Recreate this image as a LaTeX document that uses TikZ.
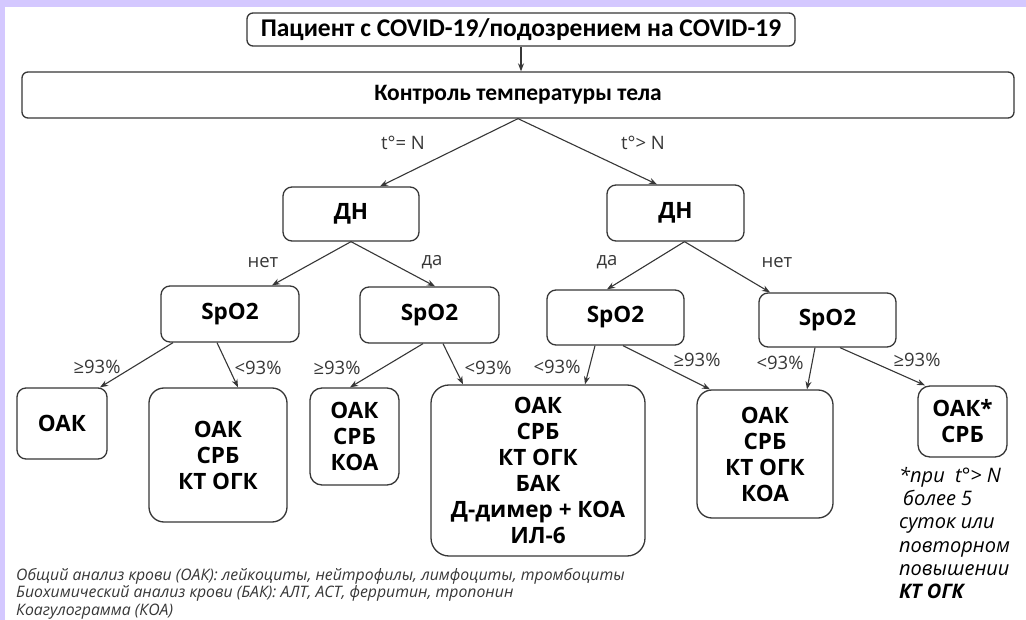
\documentclass[tikz,border=0pt]{standalone}
\usepackage{fontspec}
\setmainfont{Open Sans}
\newfontfamily\calfont{Carlito}
\usetikzlibrary{calc, arrows.meta}

\definecolor{framelav}{RGB}{212,200,255}
\definecolor{ink}{RGB}{55,55,55}

\newcommand{\boxfont}{\fontsize{22.5}{26}\selectfont\bfseries}
\newcommand{\lblfont}{\fontsize{18.5}{20}\selectfont}
\newcommand{\notefont}{\fontsize{20}{23.2}\selectfont\itshape}

\tikzset{
  box/.style={draw=ink, line width=1.3pt, rounded corners=9pt, align=center,
    inner sep=0pt, font=\boxfont},
  arr/.style={draw=ink, line width=1.1pt, -{Stealth[length=8pt,width=6pt]}},
  lbl/.style={font=\lblfont, text=ink, inner sep=0pt}
}

\begin{document}
\begin{tikzpicture}[x=1pt, y=-1pt]
\def\picW{1026}
\def\picH{620}

    % frame
    \fill[framelav] (0,0) rectangle (\picW,\picH);
    \fill[white] (5,7) rectangle (\picW,\picH);
    \useasboundingbox (0,0) rectangle (\picW,\picH);

    % top of the tree
    \node[box, rounded corners=6pt, minimum width=548, minimum height=33,
      font=\calfont\fontsize{25.5}{26}\selectfont\bfseries] (patient) at (521,29.5)
      {Пациент с COVID-19/подозрением на COVID-19};
    \node[box, rounded corners=6pt, minimum width=992, minimum height=46,
      font=\calfont\fontsize{23.5}{26}\selectfont\bfseries] (temp) at (518,95)
      {Контроль температуры тела};

    % ДН
    \node[box, minimum width=136, minimum height=54] (dnL) at (351,214) {ДН};
    \node[box, minimum width=137, minimum height=56] (dnR) at (675.5,213) {ДН};

    % SpO2
    \node[box, minimum width=138, minimum height=56] (spA) at (230,314) {SpO2};
    \node[box, minimum width=139, minimum height=56] (spB) at (429.5,315) {SpO2};
    \node[box, minimum width=137, minimum height=55] (spC) at (615.5,317.5) {SpO2};
    \node[box, minimum width=137, minimum height=54] (spD) at (827.5,320) {SpO2};

    % tests
    \node[box, minimum width=90, minimum height=71] (resA) at (62,423.5) {ОАК};
    \node[box, rounded corners=15pt, minimum width=138, minimum height=134] (resB) at (218,455)
      {ОАК\\СРБ\\КТ ОГК};
    \node[box, rounded corners=12pt, minimum width=89, minimum height=97] (resC) at (354.5,436.5)
      {ОАК\\СРБ\\КОА};
    \node[box, rounded corners=18pt, minimum width=214, minimum height=171] (resD) at (538,470.5)
      {ОАК\\СРБ\\КТ ОГК\\БАК\\Д-димер + КОА\\ИЛ-6};
    \node[box, rounded corners=15pt, minimum width=136, minimum height=128] (resE) at (765,454)
      {ОАК\\СРБ\\КТ ОГК\\КОА};
    \node[box, rounded corners=12pt, minimum width=89, minimum height=71] (resF) at (962.5,421.5)
      {ОАК*\\СРБ};

    % arrows
    \draw[arr] (patient.south) -- (patient.south |- temp.north);
    \draw[arr] (temp.south) -- ([xshift=29]dnL.north);
    \draw[arr] (temp.south) -- ([xshift=-18.5]dnR.north);
    \draw[arr] (dnL.south) -- ([xshift=42]spA.north);
    \draw[arr] (dnL.south) -- ([xshift=5.5]spB.north);
    \draw[arr] ([xshift=9]dnR.south) -- ([xshift=-8.5]spC.north);
    \draw[arr] ([xshift=9]dnR.south) -- ([xshift=-57.5]spD.north);
    \draw[arr] ([xshift=-57]spA.south) -- ([xshift=38]resA.north);
    \draw[arr] ([xshift=-13]spA.south) -- ([xshift=20]resB.north);
    \draw[arr] ([xshift=-6.5]spB.south) -- ([xshift=-4.5]resC.north);
    \draw[arr] ([xshift=13.5]spB.south) -- ([xshift=-75]resD.north);
    \draw[arr] ([xshift=-20.5]spC.south) -- ([xshift=47]resD.north);
    \draw[arr] ([xshift=7.5]spC.south) -- ([xshift=-55]resE.north);
    \draw[arr] ([xshift=-12.5]spD.south) -- ([xshift=42]resE.north);
    \draw[arr] ([xshift=12.5]spD.south) -- ([xshift=-37.5]resF.north);

    %Labels
    \node[lbl] (tEq) at (403,143) {t°= N};
    \node[lbl] (tGt) at (643,143) {t°> N};
    \node[lbl] (noL) at (263,263) {нет};
    \node[lbl] (yesL) at (432,262) {да};
    \node[lbl] (yesR) at (607,262) {да};
    \node[lbl] (noR) at (777,263) {нет};
    \node[lbl] (geA) at (97,367) {≥93\%};
    \node[lbl] (ltA) at (258,368) {<93\%};
    \node[lbl] (geB) at (337,368) {≥93\%};
    \node[lbl] (ltB) at (488,368) {<93\%};
    \node[lbl] (ltC) at (557,367) {<93\%};
    \node[lbl] (geC) at (697,360) {≥93\%};
    \node[lbl] (ltD) at (780,363) {<93\%};
    \node[lbl] (geD) at (917,360) {≥93\%};

    % notes
    \node[anchor=north west, align=left, inner sep=0pt, text=ink,
      font=\fontsize{15.8}{17.5}\selectfont\itshape] (legend) at (16,568)
      {Общий анализ крови (ОАК): лейкоциты, нейтрофилы, лимфоциты, тромбоциты\\
       Биохимический анализ крови (БАК): АЛТ, АСТ, ферритин, тропонин\\
       Коагулограмма (КОА)};
    \node[anchor=north west, align=left, inner sep=0pt, font=\notefont] (starNote) at (899,467)
      {*при\ \ t°> N\\
       \hspace{4pt}более 5\\
       суток или\\
       повторном\\
       повышении\\
       \textbf{КТ ОГК}};
\end{tikzpicture}
\end{document}
